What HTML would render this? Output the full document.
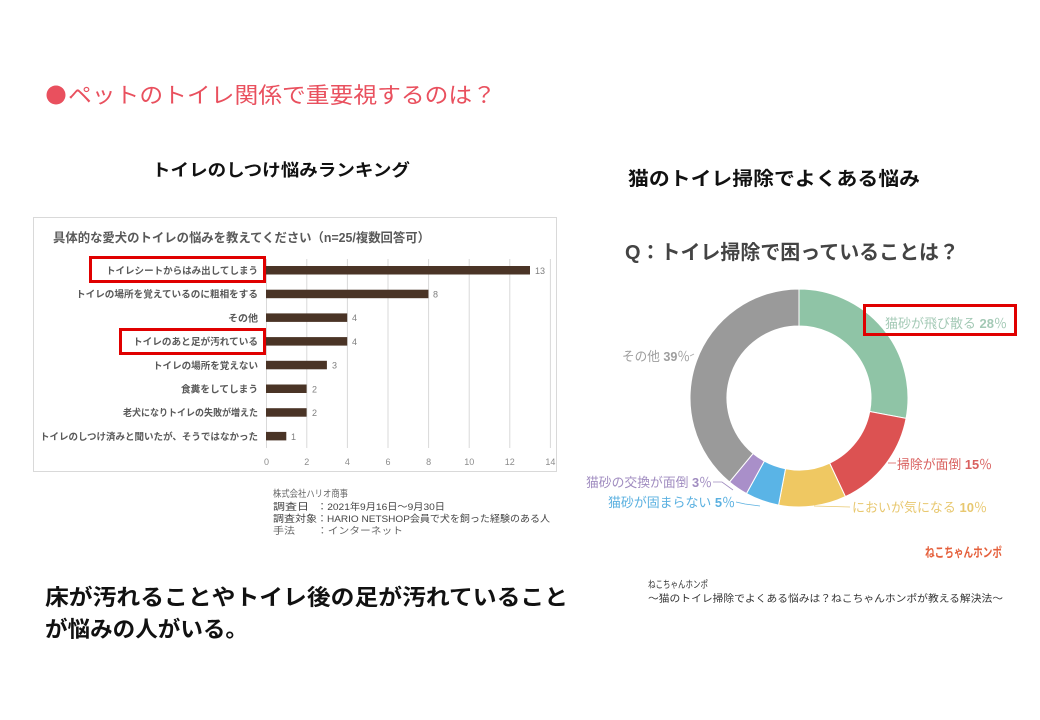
<!DOCTYPE html>
<html><head><meta charset="utf-8"><style>
html,body{margin:0;padding:0;background:#fff;}
svg{display:block;}
text{font-family:"Liberation Sans","Noto Sans CJK JP",sans-serif;}
</style></head><body>
<svg width="1040" height="720" viewBox="0 0 1040 720" xmlns="http://www.w3.org/2000/svg">
<rect width="1040" height="720" fill="#fff"/>
<!-- main title -->
<circle cx="56" cy="95" r="9.5" fill="#e9505e"/>
<text x="68" y="103" font-size="22" fill="#e9505e" textLength="428" lengthAdjust="spacingAndGlyphs">ペットのトイレ関係で重要視するのは？</text>
<text x="152" y="176" font-size="17" font-weight="bold" fill="#111" textLength="258" lengthAdjust="spacingAndGlyphs">トイレのしつけ悩みランキング</text>
<text x="628" y="185" font-size="19" font-weight="bold" fill="#111" textLength="292" lengthAdjust="spacingAndGlyphs">猫のトイレ掃除でよくある悩み</text>

<!-- bar chart -->
<rect x="33.5" y="217.5" width="523" height="254" fill="#fff" stroke="#d9d9d9" stroke-width="1"/>
<text x="53" y="242" font-size="12.5" font-weight="bold" fill="#595959" textLength="377" lengthAdjust="spacingAndGlyphs">具体的な愛犬のトイレの悩みを教えてください（n=25/複数回答可）</text>
<g stroke="#d9d9d9" stroke-width="1">
<line x1="266.5" y1="259" x2="266.5" y2="448"/>
<line x1="306.8" y1="259" x2="306.8" y2="448"/>
<line x1="347.4" y1="259" x2="347.4" y2="448"/>
<line x1="388" y1="259" x2="388" y2="448"/>
<line x1="428.6" y1="259" x2="428.6" y2="448"/>
<line x1="469.2" y1="259" x2="469.2" y2="448"/>
<line x1="509.8" y1="259" x2="509.8" y2="448"/>
<line x1="550.4" y1="259" x2="550.4" y2="448"/>
</g>
<g fill="#8c8c8c" font-size="9" text-anchor="middle">
<text x="266.5" y="465">0</text><text x="306.8" y="465">2</text><text x="347.4" y="465">4</text><text x="388" y="465">6</text><text x="428.6" y="465">8</text><text x="469.2" y="465">10</text><text x="509.8" y="465">12</text><text x="550.4" y="465">14</text>
</g>
<g fill="#4a3426">
<rect x="266" y="266" width="264" height="8.5"/>
<rect x="266" y="289.7" width="162.4" height="8.5"/>
<rect x="266" y="313.4" width="81.2" height="8.5"/>
<rect x="266" y="337.1" width="81.2" height="8.5"/>
<rect x="266" y="360.8" width="60.9" height="8.5"/>
<rect x="266" y="384.5" width="40.6" height="8.5"/>
<rect x="266" y="408.2" width="40.6" height="8.5"/>
<rect x="266" y="431.9" width="20.3" height="8.5"/>
</g>
<g fill="#7f7f7f" font-size="9">
<text x="535" y="274">13</text>
<text x="433" y="297.5">8</text>
<text x="352" y="321.2">4</text>
<text x="352" y="345">4</text>
<text x="332" y="368.7">3</text>
<text x="312" y="392.4">2</text>
<text x="312" y="416.1">2</text>
<text x="291" y="439.8">1</text>
</g>
<g fill="#595959" font-size="9.5" font-weight="bold" text-anchor="end">
<text x="258" y="274" textLength="152" lengthAdjust="spacingAndGlyphs">トイレシートからはみ出してしまう</text>
<text x="258" y="297.7" textLength="182" lengthAdjust="spacingAndGlyphs">トイレの場所を覚えているのに粗相をする</text>
<text x="258" y="321.4" textLength="30" lengthAdjust="spacingAndGlyphs">その他</text>
<text x="258" y="345.1" textLength="125" lengthAdjust="spacingAndGlyphs">トイレのあと足が汚れている</text>
<text x="258" y="368.8" textLength="105" lengthAdjust="spacingAndGlyphs">トイレの場所を覚えない</text>
<text x="258" y="392.5" textLength="77" lengthAdjust="spacingAndGlyphs">食糞をしてしまう</text>
<text x="258" y="416.2" textLength="135" lengthAdjust="spacingAndGlyphs">老犬になりトイレの失敗が増えた</text>
<text x="258" y="439.9" textLength="218" lengthAdjust="spacingAndGlyphs">トイレのしつけ済みと聞いたが、そうではなかった</text>
</g>
<g fill="none" stroke="#e00000" stroke-width="3">
<rect x="90.5" y="257.5" width="174" height="24"/>
<rect x="120.5" y="329.5" width="144" height="24"/>
</g>

<!-- source text -->
<g font-size="9.5" fill="#444">
<text x="273" y="497" textLength="75" lengthAdjust="spacingAndGlyphs" fill="#666">株式会社ハリオ商事</text>
<text x="273" y="510" textLength="36" lengthAdjust="spacingAndGlyphs">調査日</text>
<text x="317" y="510" textLength="128" lengthAdjust="spacingAndGlyphs">：2021年9月16日～9月30日</text>
<text x="273" y="522" textLength="44" lengthAdjust="spacingAndGlyphs">調査対象</text>
<text x="317" y="522" textLength="233" lengthAdjust="spacingAndGlyphs">：HARIO NETSHOP会員で犬を飼った経験のある人</text>
<text x="273" y="534" textLength="22" lengthAdjust="spacingAndGlyphs" fill="#666">手法</text>
<text x="317" y="534" textLength="86" lengthAdjust="spacingAndGlyphs" fill="#666">：インターネット</text>
</g>

<!-- bottom text -->
<text x="45" y="605" font-size="22" font-weight="bold" fill="#111" textLength="523" lengthAdjust="spacingAndGlyphs">床が汚れることやトイレ後の足が汚れていること</text>
<text x="45" y="637" font-size="22" font-weight="bold" fill="#111" textLength="203" lengthAdjust="spacingAndGlyphs">が悩みの人がいる。</text>

<text x="648" y="588" font-size="10" fill="#333" textLength="60" lengthAdjust="spacingAndGlyphs">ねこちゃんホンポ</text>
<text x="648" y="602" font-size="10" fill="#333" textLength="355" lengthAdjust="spacingAndGlyphs">～猫のトイレ掃除でよくある悩みは？ねこちゃんホンポが教える解決法～</text>

<!-- donut -->
<text x="625" y="259" font-size="20" font-weight="bold" fill="#444" textLength="334" lengthAdjust="spacingAndGlyphs">Q：トイレ掃除で困っていることは？</text>
<g stroke="#fff" stroke-width="1">
<path d="M799,289 A109,109 0 0 1 906.07,418.42 L869.72,411.49 A72,72 0 0 0 799,326 Z" fill="#8fc4a6"/>
<path d="M906.07,418.42 A109,109 0 0 1 845.41,496.63 L829.66,463.15 A72,72 0 0 0 869.72,411.49 Z" fill="#dc5252"/>
<path d="M845.41,496.63 A109,109 0 0 1 778.58,505.07 L785.51,468.72 A72,72 0 0 0 829.66,463.15 Z" fill="#efc862"/>
<path d="M778.58,505.07 A109,109 0 0 1 746.49,493.52 L764.31,461.09 A72,72 0 0 0 785.51,468.72 Z" fill="#5ab4e6"/>
<path d="M746.49,493.52 A109,109 0 0 1 729.52,481.99 L753.11,453.48 A72,72 0 0 0 764.31,461.09 Z" fill="#a98fc9"/>
<path d="M729.52,481.99 A109,109 0 0 1 799,289 L799,326 A72,72 0 0 0 753.11,453.48 Z" fill="#9a9a9a"/>
</g>
<!-- leader lines -->
<g fill="none" stroke-width="0.8">
<path d="M690,356 L694,354" stroke="#aaa"/>
<path d="M888,463 L896,463" stroke="#d9605f"/>
<path d="M814,506 L850,507" stroke="#e8c870"/>
<path d="M713,482 L722,482 L733,490" stroke="#a08cc0"/>
<path d="M736,502 L745,504 L760,506" stroke="#5ab0e0"/>
</g>
<g font-size="13">
<text x="885" y="328" fill="#a3c9b5" textLength="122" lengthAdjust="spacingAndGlyphs">猫砂が飛び散る <tspan font-weight="bold">28</tspan>％</text>
<text x="622" y="361" fill="#9e9e9e" textLength="68" lengthAdjust="spacingAndGlyphs">その他 <tspan font-weight="bold">39</tspan>％</text>
<text x="897" y="469" fill="#d9605f" textLength="95" lengthAdjust="spacingAndGlyphs">掃除が面倒 <tspan font-weight="bold">15</tspan>％</text>
<text x="852" y="512" fill="#e8c870" textLength="135" lengthAdjust="spacingAndGlyphs">においが気になる <tspan font-weight="bold">10</tspan>％</text>
<text x="586" y="487" fill="#a08cc0" textLength="126" lengthAdjust="spacingAndGlyphs">猫砂の交換が面倒 <tspan font-weight="bold">3</tspan>％</text>
<text x="608" y="507" fill="#5ab0e0" textLength="127" lengthAdjust="spacingAndGlyphs">猫砂が固まらない <tspan font-weight="bold">5</tspan>％</text>
</g>
<rect x="864.5" y="305.5" width="151" height="29" fill="none" stroke="#e00000" stroke-width="3"/>
<text x="925" y="557" font-size="13" font-weight="bold" fill="#e5603c" textLength="77" lengthAdjust="spacingAndGlyphs">ねこちゃんホンポ</text>
</svg>
</body></html>
